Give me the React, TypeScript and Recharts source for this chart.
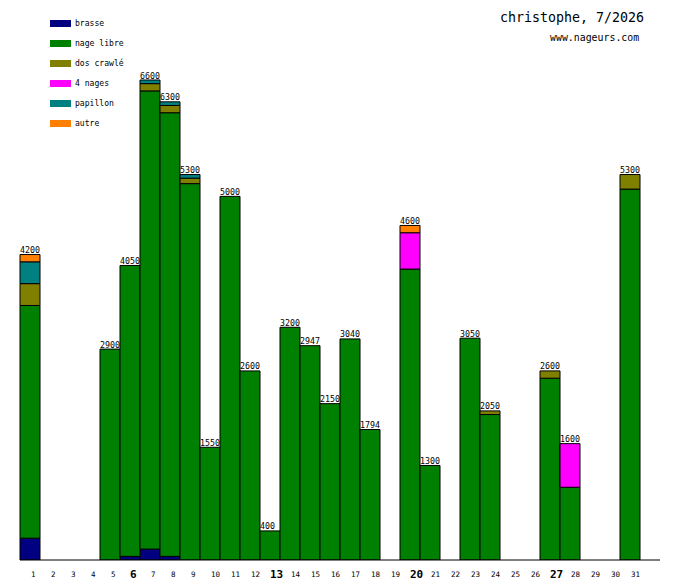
import { Bar, ComposedChart, LabelList, Line, XAxis, YAxis } from 'recharts'

// one slot per day of the month, plus an empty slot at the right end
const days = [
  '1', '2', '3', '4', '5', '6', '7', '8', '9', '10', '11', '12', '13', '14', '15', '16',
  '17', '18', '19', '20', '21', '22', '23', '24', '25', '26', '27', '28', '29', '30', '31', '',
]
const boldDays = ['6', '13', '20', '27']

// metres per stroke, per day
const brasse = [300, 0, 0, 0, 0, 50, 150, 50, 0, 0, 0, 0, 0, 0, 0, 0, 0, 0, 0, 0, 0, 0, 0, 0, 0, 0, 0, 0, 0, 0, 0, 0]
const nageLibre = [3200, 0, 0, 0, 2900, 4000, 6300, 6100, 5175, 1550, 5000, 2600, 400, 3200, 2947, 2150, 3040, 1794, 0, 4000, 1300, 0, 3050, 2000, 0, 0, 2500, 1000, 0, 0, 5100, 0]
const dosCrawle = [300, 0, 0, 0, 0, 0, 100, 100, 75, 0, 0, 0, 0, 0, 0, 0, 0, 0, 0, 0, 0, 0, 0, 50, 0, 0, 100, 0, 0, 0, 200, 0]
const quatreNages = [0, 0, 0, 0, 0, 0, 0, 0, 0, 0, 0, 0, 0, 0, 0, 0, 0, 0, 0, 500, 0, 0, 0, 0, 0, 0, 0, 600, 0, 0, 0, 0]
const papillon = [300, 0, 0, 0, 0, 0, 50, 50, 50, 0, 0, 0, 0, 0, 0, 0, 0, 0, 0, 0, 0, 0, 0, 0, 0, 0, 0, 0, 0, 0, 0, 0]
const autre = [100, 0, 0, 0, 0, 0, 0, 0, 0, 0, 0, 0, 0, 0, 0, 0, 0, 0, 0, 100, 0, 0, 0, 0, 0, 0, 0, 0, 0, 0, 0, 0]

const series = [
  { key: 'brasse', label: 'brasse', color: '#000080', values: brasse },
  { key: 'nageLibre', label: 'nage libre', color: '#008000', values: nageLibre },
  { key: 'dosCrawle', label: 'dos crawlé', color: '#808000', values: dosCrawle },
  { key: 'quatreNages', label: '4 nages', color: '#ff00ff', values: quatreNages },
  { key: 'papillon', label: 'papillon', color: '#008080', values: papillon },
  { key: 'autre', label: 'autre', color: '#ff8000', values: autre },
]

const chartData = days.map((day, i) => {
  const row: Record<string, string | number | null> = { day }
  let total = 0
  series.forEach(s => {
    row[s.key] = s.values[i]
    total += s.values[i]
  })
  row.total = total > 0 ? total : null
  return row
})

const mono = '"DejaVu Sans Mono", monospace'

function DayTick(props: any) {
  const { x, y, payload } = props
  const bold = boldDays.includes(payload.value)
  return (
    <text
      x={bold ? x : x + 1}
      y={y + (bold ? 17.5 : 16.5)}
      fontFamily={mono}
      fontSize={bold ? 11 : 7.5}
      fontWeight={bold ? 'bold' : 'normal'}
      fill="#000"
    >
      {payload.value}
    </text>
  )
}

// total written above the bar, starting at its left edge
function TotalLabel(props: any) {
  const { x, y, value } = props
  if (!value) return null
  return (
    <text x={x - 10} y={y - 1.5} fontFamily={mono} fontSize={8.3} fill="#000">
      {value}
    </text>
  )
}

export default function App() {
  return (
    <div style={{ position: 'absolute', top: 0, left: 0, width: 680, height: 580, background: '#fff' }}>
      <ComposedChart
        width={680}
        height={580}
        data={chartData}
        margin={{ top: 20, right: 20, bottom: 0, left: 20 }}
        barCategoryGap={0}
        barGap={0}
      >
        <XAxis
          dataKey="day"
          interval={0}
          height={20}
          tickLine={false}
          tickSize={0}
          tickMargin={0}
          axisLine={{ stroke: '#000' }}
          tick={<DayTick />}
        />
        <YAxis
          domain={[0, 7425]}
          allowDataOverflow
          width={0}
          tick={false}
          tickLine={false}
          axisLine={{ stroke: '#000' }}
        />
        {series.map(s => (
          <Bar
            key={s.key}
            dataKey={s.key}
            stackId="day"
            fill={s.color}
            stroke="#000"
            strokeWidth={1}
            isAnimationActive={false}
          />
        ))}
        <Line
          dataKey="total"
          stroke="none"
          dot={false}
          activeDot={false}
          legendType="none"
          isAnimationActive={false}
        >
          <LabelList dataKey="total" content={<TotalLabel />} />
        </Line>
      </ComposedChart>
      <svg width={680} height={580} style={{ position: 'absolute', top: 0, left: 0, pointerEvents: 'none' }}>
        {series.map((s, i) => (
          <g key={s.key}>
            <rect x={50} y={20 + i * 20} width={21} height={7} fill={s.color} />
            <text x={75} y={26 + i * 20} fontFamily={mono} fontSize={8.1} fill="#000">
              {s.label}
            </text>
          </g>
        ))}
        <text x={500} y={22} fontFamily={mono} fontSize={13.3} fill="#000">
          christophe, 7/2026
        </text>
        <text x={550} y={40.5} fontFamily={mono} fontSize={9.9} fill="#000">
          www.nageurs.com
        </text>
      </svg>
    </div>
  )
}
